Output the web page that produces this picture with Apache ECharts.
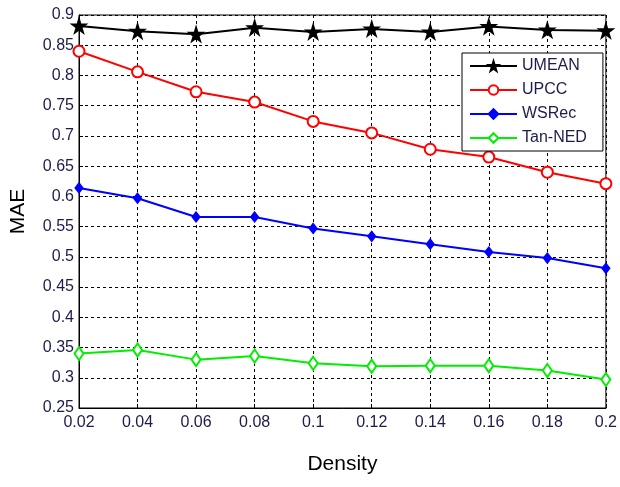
<!DOCTYPE html>
<html><head><meta charset="utf-8">
<script src="https://cdn.jsdelivr.net/npm/echarts@6/dist/echarts.min.js"></script>
<style>html,body{margin:0;padding:0;background:#fff}#c{width:620px;height:487px}</style>
</head><body><div id="c"></div>
<script>
var categories = ['0.02','0.04','0.06','0.08','0.1','0.12','0.14','0.16','0.18','0.2'];
var umean = [0.882, 0.873, 0.868, 0.879, 0.872, 0.877, 0.872, 0.881, 0.875, 0.874];
var upcc = [0.840, 0.806, 0.773, 0.756, 0.724, 0.705, 0.678, 0.665, 0.640, 0.621];
var wsrec = [0.614, 0.597, 0.566, 0.566, 0.547, 0.534, 0.521, 0.508, 0.498, 0.481];
var tanned = [0.340, 0.346, 0.330, 0.336, 0.324, 0.319, 0.320, 0.320, 0.312, 0.297];
var seriesNames = ['UMEAN','UPCC','WSRec','Tan-NED'];

var star = 'path://M50,0 L61,35 L98,35 L68,57 L79,91 L50,70 L21,91 L32,57 L2,35 L39,35 Z';
var labelColor = '#1c1c4a';
var chart = echarts.init(document.getElementById('c'));
function mk(name, data, color, symbol, size){
  return {name:name, type:'line', data:data, symbol:symbol, symbolSize:size,
    showAllSymbol:true, animation:false,
    lineStyle:{color:color, width:2}, itemStyle:{color:color, borderColor:color, borderWidth:2}};
}
chart.setOption({
  animation:false,
  grid:{left:79, top:15, right:9, bottom:79, show:true, borderColor:'#000', borderWidth:1},
  xAxis:{type:'category', data:categories, boundaryGap:false,
    name:'Density', nameLocation:'middle', nameGap:46,
    nameTextStyle:{fontFamily:'Liberation Sans', fontSize:21, color:'#000'},
    axisLine:{lineStyle:{color:'#000'}}, axisTick:{show:true, inside:true, length:4, lineStyle:{color:'#000'}},
    axisLabel:{fontFamily:'Liberation Sans', fontSize:16, color:labelColor, margin:7, showMaxLabel:true, showMinLabel:true},
    splitLine:{show:true, lineStyle:{color:'#000', type:[3,3], width:1}}},
  yAxis:{type:'value', min:0.25, max:0.9, interval:0.05,
    name:'MAE', nameLocation:'middle', nameGap:50,
    nameTextStyle:{fontFamily:'Liberation Sans', fontSize:21, color:'#000'},
    axisLine:{show:true, lineStyle:{color:'#000'}}, axisTick:{show:true, inside:true, length:4, lineStyle:{color:'#000'}},
    axisLabel:{fontFamily:'Liberation Sans', fontSize:16, color:labelColor, margin:5, formatter:function(v){return String(+v.toFixed(2));}},
    splitLine:{show:true, lineStyle:{color:'#000', type:[3,3], width:1}}},
  legend:{left:462, top:53, orient:'vertical', data:seriesNames,
    backgroundColor:'#fff', borderColor:'#000', borderWidth:1, padding:[5,16,5,7],
    itemWidth:47, itemHeight:12, itemGap:8,
    textStyle:{fontFamily:'Liberation Sans', fontSize:16, color:labelColor}},
  series:[
    mk('UMEAN', umean, '#000000', star, 13),
    mk('UPCC', upcc, '#ff0000', 'emptyCircle', 11),
    mk('WSRec', wsrec, '#0000ff', 'diamond', [7,9]),
    mk('Tan-NED', tanned, '#00ee00', 'emptyDiamond', [9,13])
  ]
});
</script></body></html>
